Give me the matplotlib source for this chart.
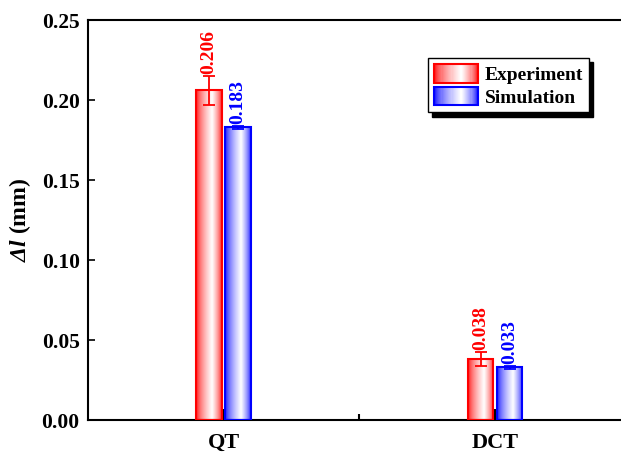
import numpy as np
import matplotlib
matplotlib.use('Agg')
import matplotlib.pyplot as plt
from matplotlib.patches import Patch, Rectangle
from matplotlib.legend_handler import HandlerBase
from matplotlib.colors import to_rgb

groups = ['QT', 'DCT']
experiment = [0.206, 0.038]
experiment_err = [0.009, 0.0045]
simulation = [0.183, 0.033]
simulation_err = [0.0008, 0.0008]
series_names = ['Experiment', 'Simulation']
series_colors = ['#ff0000', '#0000ff']

plt.rcParams['font.family'] = 'Liberation Serif'
plt.rcParams['font.weight'] = 'bold'
plt.rcParams['mathtext.fontset'] = 'custom'
# greek capitals are always taken from the rm font, so make it italic too
plt.rcParams['mathtext.rm'] = 'Liberation Serif:bold:italic'
plt.rcParams['mathtext.it'] = 'Liberation Serif:bold:italic'


def gradient(color, n=256):
    # edge colour on both sides, fading to white a bit right of centre
    t = np.linspace(0, 1, n)
    mix = np.where(t < 0.62, t / 0.62, (1 - t) / 0.38)
    mix = mix ** 0.6
    base = np.array(to_rgb(color))
    return base[None, :] * (1 - mix[:, None]) + mix[:, None]


class GradientHandler(HandlerBase):
    def create_artists(self, legend, orig_handle, xdescent, ydescent,
                       width, height, fontsize, trans):
        color = orig_handle.get_edgecolor()
        cols = gradient(color, 40)
        x0, y0 = -xdescent, -ydescent
        step = width / len(cols)
        artists = []
        for i, c in enumerate(cols):
            artists.append(Rectangle((x0 + i * step, y0), step * 1.05, height,
                                     facecolor=c, edgecolor='none',
                                     transform=trans))
        artists.append(Rectangle((x0, y0), width, height, fill=False,
                                 edgecolor=color, lw=1.5, transform=trans))
        return artists


fig = plt.figure(figsize=(6.21, 4.53), dpi=100)
ax = fig.add_axes([0.1417, 0.0728, 0.874, 0.883])

x = np.arange(1, len(groups) + 1)
width = 0.095
offset = 0.0535

for vals, errs, shift, color in zip([experiment, simulation],
                                    [experiment_err, simulation_err],
                                    [-offset, offset], series_colors):
    bars = ax.bar(x + shift, vals, width, facecolor='none', edgecolor=color,
                  linewidth=1.5, zorder=3)
    for b, v, e in zip(bars, vals, errs):
        x0 = b.get_x()
        img = gradient(color)[None, :, :]
        ax.imshow(img, extent=[x0, x0 + b.get_width(), 0, v], aspect='auto',
                  interpolation='bilinear', zorder=2)
        ax.errorbar(b.get_x() + b.get_width() / 2, v, yerr=e, color=color,
                    capsize=4.5, elinewidth=1.3, capthick=1.3, zorder=4)
        ax.annotate(f'{v:.3f}', (b.get_x() + b.get_width() / 2, v + e),
                    xytext=(0, 1.5), textcoords='offset points',
                    rotation=90, ha='center', va='bottom', color=color,
                    fontsize=14, fontweight='bold')

ax.set_xlim(0.5, 2.5)
ax.set_ylim(0, 0.25)
ax.set_yticks(np.arange(0, 0.251, 0.05))
ax.set_yticklabels([f'{v:.2f}' for v in np.arange(0, 0.251, 0.05)])
ax.set_xticks(x)
ax.set_xticklabels(groups, fontsize=16)
ax.set_xticks([1.5], minor=True)
ax.tick_params(axis='y', direction='in', length=5, width=1.2, labelsize=15.5,
               pad=6)
ax.tick_params(axis='x', which='major', direction='in', length=8, width=1.5,
               pad=9.5)
ax.tick_params(axis='x', which='minor', direction='in', length=4, width=1.5)
ax.set_ylabel(r'$\Delta l$ (mm)', fontsize=17, fontweight='bold',
              labelpad=6)
for s in ax.spines.values():
    s.set_linewidth(1.5)

handles = [Patch(edgecolor=c, facecolor=c) for c in series_colors]
leg = ax.legend(handles, series_names, loc='upper left',
                bbox_to_anchor=(0.626, 0.905), borderaxespad=0,
                handler_map={Patch: GradientHandler()},
                prop={'family': 'Liberation Serif', 'weight': 'bold',
                      'size': 14},
                handlelength=2.3, handleheight=1.1, handletextpad=0.35,
                labelspacing=0.15, borderpad=0.3,
                fancybox=False, framealpha=1, edgecolor='black',
                shadow={'ox': 3, 'oy': -3, 'color': 'black', 'alpha': 1})
leg.get_frame().set_linewidth(1.0)

fig.savefig('out.png', dpi=100)
